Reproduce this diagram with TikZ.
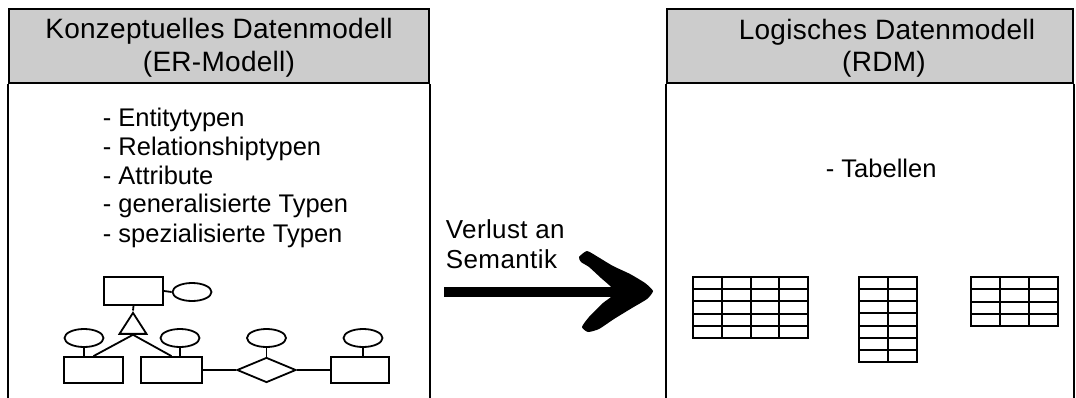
\documentclass[tikz,border=0pt]{standalone}
\usepackage{fontspec}
\setmainfont{Liberation Sans}
\usetikzlibrary{shapes.geometric}
\definecolor{headgray}{HTML}{CCCCCC}

% grid of a relational table: x, y (top left), columns, rows, cell width, cell height
\newcommand\dbtablegrid[6]{%
  \draw[tabline] (#1,#2) rectangle ++(#3*#5,#4*#6);
  \foreach \c in {1,...,#3}{\draw[tabline] (#1+\c*#5,#2) -- ++(0,#4*#6);}
  \foreach \r in {1,...,#4}{\draw[tabline] (#1,#2+\r*#6) -- ++(#3*#5,0);}
}

\begin{document}
\begin{tikzpicture}[x=1pt,y=-1pt,line width=1.8pt,
  frame/.style={draw,line width=2pt},
  headbox/.style={frame,fill=headgray,rectangle,inner sep=0pt,minimum height=74pt},
  headtext/.style={inner sep=0pt,font=\fontsize{28}{32}\selectfont\addfontfeature{LetterSpace=1}},
  listtext/.style={inner sep=0pt,anchor=base west,font=\fontsize{25.5}{28}\selectfont},
  arrtext/.style={inner sep=0pt,anchor=base west,font=\fontsize{26}{28}\selectfont\addfontfeature{LetterSpace=1.5}},
  entity/.style={draw,rectangle,inner sep=0pt,minimum height=26pt},
  attr/.style={draw,ellipse,inner sep=0pt,minimum width=39pt,minimum height=18pt},
  relship/.style={draw,diamond,inner sep=0pt,minimum width=59pt,minimum height=25pt},
  isa/.style={draw,isosceles triangle,isosceles triangle stretches,shape border rotate=90,
    inner sep=0pt,minimum height=21pt,minimum width=27pt},
  tabline/.style={line width=2pt},
  link/.style={line width=1.8pt}]
\useasboundingbox (0,0) rectangle (1076,398);

% left panel: conceptual model
\node[headbox,minimum width=420pt] (lhead) at (219,46) {};
\draw[frame] (lhead.south west) -- ++(0,330);
\draw[frame] (lhead.south east) -- ++(0,330);
\node[headtext,anchor=base] (lh1) at (219,39) {Konzeptuelles Datenmodell};
\node[headtext,anchor=base] (lh2) at (219,72) {(ER-Modell)};

\node[listtext] (l1) at (102,127) {- Entitytypen};
\node[listtext] (l2) at (102,156) {- Relationshiptypen};
\node[listtext] (l3) at (102,184.5) {- Attribute};
\node[listtext] (l4) at (102,213) {- generalisierte Typen};
\node[listtext] (l5) at (102,242) {- spezialisierte Typen};

% small ER diagram
\node[entity,minimum width=59pt,minimum height=28pt] (e0) at (133.5,291) {};
\node[entity,minimum width=59pt] (e1) at (93.5,370) {};
\node[entity,minimum width=61pt] (e2) at (171.5,370) {};
\node[entity,minimum width=58pt] (e3) at (360,370) {};
\node[relship] (rel) at (266.5,370) {};
\node[isa] (gen) at (133,326.5) {};
\node[attr] (a0) at (192,292) {};
\node[attr] (a1) at (84,338) {};
\node[attr] (a2) at (180,338) {};
\node[attr] (a3) at (266.5,338) {};
\node[attr] (a4) at (363,338) {};

\draw[link] (e0.east) -- (a0.west);
\draw[link] (e0.south) -- (gen.apex);
\draw[link] (gen.lower side) -- (e1.north);
\draw[link] (gen.lower side) -- (e2.north);
\draw[link] (a1.south) -- (a1.south |- e1.north);
\draw[link] (a2.south) -- (a2.south |- e2.north);
\draw[link] (a3.south) -- (rel.north);
\draw[link] (a4.south) -- (a4.south |- e3.north);
\draw[link] (e2.east) -- (rel.west);
\draw[link] (rel.east) -- (e3.west);

% transition arrow
\node[arrtext] (t1) at (445,239) {Verlust an};
\node[arrtext] (t2) at (445,268) {Semantik};
\coordinate (arrtail) at (444,292);
\coordinate (arrtip) at (653,291);
\draw[line width=10pt] (arrtail) -- ([xshift=-40pt]arrtip |- arrtail);
\fill plot[smooth cycle,tension=0.35] coordinates {
  (579,257) (587,251) (598,257) (613,266) (630,274) (645,283) (arrtip)
  (647,299) (632,308) (614,319) (599,329) (588,332) (582,327) (589,317) (603,303)
  (612,296) (612,288) (601,278) (589,267) (581,262)};

% right panel: logical model
\node[headbox,minimum width=406pt] (rhead) at (870,46) {};
\draw[frame] (rhead.south west) -- ++(0,330);
\draw[frame] (rhead.south east) -- ++(0,330);
\node[headtext,anchor=base] (rh1) at (887,40) {Logisches Datenmodell};
\node[headtext,anchor=base] (rh2) at (884,72) {(RDM)};

\node[listtext] (r1) at (825,178) {- Tabellen};

\dbtablegrid{693}{277}{4}{5}{28.75}{12.2}
\dbtablegrid{859}{277}{2}{7}{29}{12.14}
\dbtablegrid{971}{277}{3}{4}{29}{12.25}
\end{tikzpicture}
\end{document}
